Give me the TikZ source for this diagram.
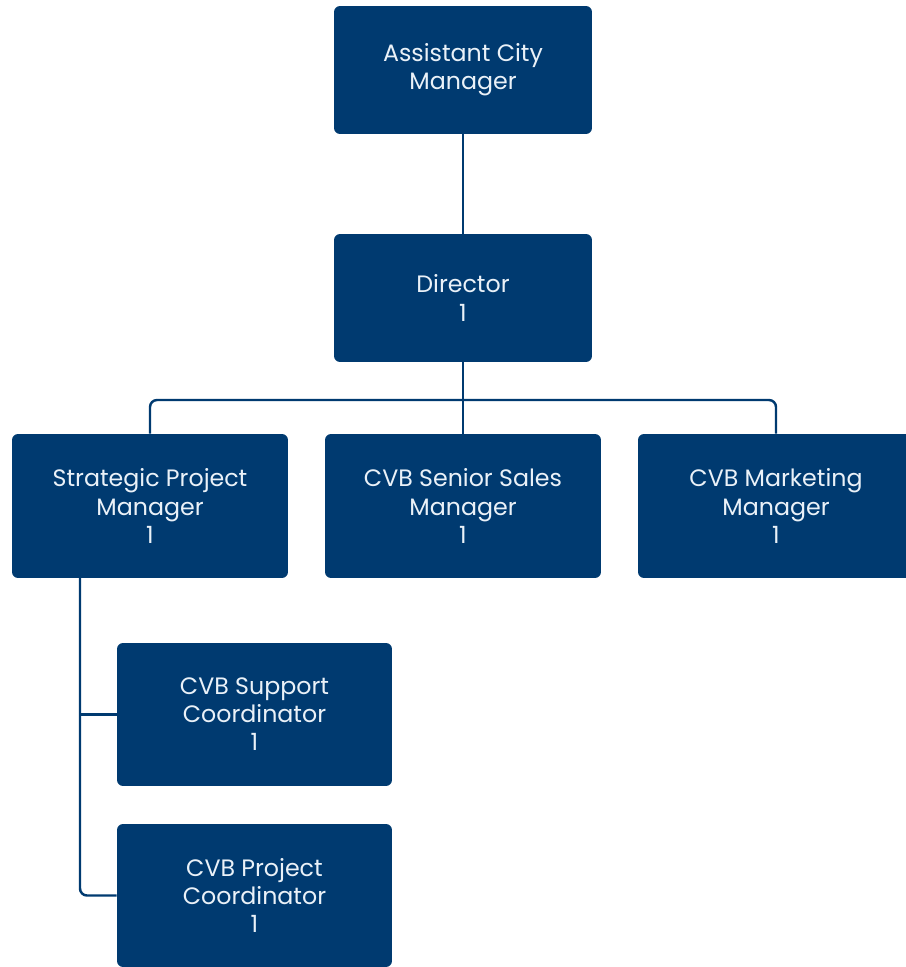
\documentclass[tikz,border=0pt]{standalone}
\usepackage{fontspec}
\setmainfont{Poppins}
\usepackage{tikz}
\definecolor{navy}{HTML}{003A70}
\definecolor{paper}{HTML}{EAF1F8}

\begin{document}
\begin{tikzpicture}[x=0.02cm, y=-0.02cm,
				   every node/.style={rectangle, rounded corners=0.12cm, fill=navy, text=paper, align=center,
				   					  font=\fontsize{13.5}{16}\selectfont, inner sep=0pt},
				   top box/.style={minimum width=5.16cm, minimum height=2.56cm},
				   mid box/.style={minimum width=5.52cm, minimum height=2.88cm},
				   sub box/.style={minimum width=5.5cm, minimum height=2.86cm},
				   link/.style={draw=navy, line width=1.4pt, rounded corners=0.14cm}]
\clip (0,0) rectangle (906,967);
\useasboundingbox (0,0) rectangle (906,967);

% head of the department
\node[top box] (acm) at (463,70) {Assistant City\\Manager};
\node[top box] (dir) at (463,298) {Director\\1};

% managers under the director
\node[mid box] (spm) at (150,506) {Strategic Project\\Manager\\1};
\node[mid box] (ssm) at (463,506) {CVB Senior Sales\\Manager\\1};
\node[mid box] (cmm) at (776,506) {CVB Marketing\\Manager\\1};

% coordinators
\node[sub box] (csc) at (254.5,714.5) {CVB Support\\Coordinator\\1};
\node[sub box] (cpc) at (254.5,895.5) {CVB Project\\Coordinator\\1};

\draw[link] (acm) -- (dir);
\draw[link] (dir) -- (ssm);
\coordinate (bus) at (463,400);
\draw[link] (spm.north) |- (bus) -| (cmm.north);

\coordinate (spine) at (80,578);
\draw[link] (spine) |- (cpc.west);
\draw[link] (spine |- csc.west) -- (csc.west);
\end{tikzpicture}
\end{document}
